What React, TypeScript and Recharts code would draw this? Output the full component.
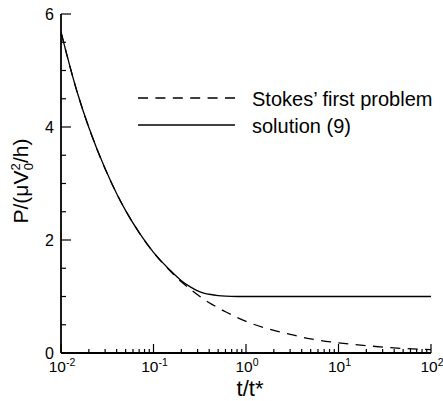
import React from "react";
import { Legend, Line, LineChart, XAxis, YAxis } from "recharts";

// t/t* sample points (log axis)
const tValues = [
  0.01, 0.015, 0.02, 0.03, 0.04, 0.05, 0.07, 0.1, 0.15, 0.2, 0.25, 0.3, 0.35,
  0.4, 0.5, 0.6, 0.8, 1, 2, 3, 5, 10, 20, 50, 100,
];

// dashed curve
const stokesValues = [
  5.68, 4.61, 3.99, 3.26, 2.82, 2.52, 2.13, 1.78, 1.46, 1.26, 1.13, 1.03, 0.95,
  0.89, 0.8, 0.73, 0.63, 0.56, 0.4, 0.33, 0.25, 0.18, 0.13, 0.08, 0.06,
];

// solid curve
const solutionValues = [
  5.68, 4.61, 3.99, 3.26, 2.82, 2.52, 2.13, 1.78, 1.47, 1.28, 1.17, 1.1, 1.06,
  1.04, 1.015, 1.005, 1.0, 1.0, 1.0, 1.0, 1.0, 1.0, 1.0, 1.0, 1.0,
];

const xDecades = [0.01, 0.1, 1, 10, 100];
const xExponents = ["-2", "-1", "0", "1", "2"];
const yMajor = [0, 2, 4, 6];
const yTicks = [0, 0.5, 1, 1.5, 2, 2.5, 3, 3.5, 4, 4.5, 5, 5.5, 6];

const seriesNames = ["Stokes\u2019 first problem", "solution (9)"];

const FONT = '"Liberation Sans", Arial, Helvetica, sans-serif';

const data = tValues.map((t, i) => ({
  t,
  stokes: stokesValues[i],
  solution: solutionValues[i],
}));

const xTicks: number[] = [];
xDecades.forEach((d, i) => {
  if (i === xDecades.length - 1) {
    xTicks.push(d);
    return;
  }
  for (let m = 1; m <= 9; m++) xTicks.push(m * d);
});

// built-in tick lines are the short (minor) ones; majors get an extra stub here
function XTick(props: any) {
  const { x, y, payload } = props;
  const v = payload.value;
  const idx = xDecades.findIndex((d) => Math.abs(d - v) < d * 1e-6);
  if (idx < 0) return <g />;
  return (
    <g>
      <path d={`M${x},${y - 4}L${x},${y - 9}`} stroke="#000" strokeWidth={1.2} fill="none" />
      <text x={x + 1} y={y + 19} textAnchor="middle" fontFamily={FONT} fontSize={15.5} fill="#000">
        10
        <tspan dy={-6} fontSize={10.5}>
          {xExponents[idx]}
        </tspan>
      </text>
    </g>
  );
}

function YTick(props: any) {
  const { x, y, payload } = props;
  if (!yMajor.includes(payload.value)) return <g />;
  return (
    <g>
      <path d={`M${x + 5},${y}L${x + 10},${y}`} stroke="#000" strokeWidth={1.2} fill="none" />
      <text x={x - 7} y={y + 5.6} textAnchor="end" fontFamily={FONT} fontSize={16} fill="#000">
        {payload.value}
      </text>
    </g>
  );
}

function YTitle() {
  const cx = 28;
  const cy = 181;
  return (
    <text
      x={cx}
      y={cy}
      transform={`rotate(-90, ${cx}, ${cy})`}
      textAnchor="middle"
      fontFamily={FONT}
      fontSize={21}
      fill="#000"
    >
      P/(μV
      <tspan dy={-8} fontSize={13}>
        2
      </tspan>
      <tspan dx={-7} dy={13} fontSize={13}>
        0
      </tspan>
      <tspan dy={-5}>/h)</tspan>
    </text>
  );
}

function XTitle() {
  return (
    <text x={250} y={396} textAnchor="middle" fontFamily={FONT} fontSize={22} fill="#000">
      t/t*
    </text>
  );
}

function LegendBox() {
  return (
    <svg width={313} height={60} style={{ display: "block", overflow: "visible" }}>
      <line x1={8} x2={105} y1={18} y2={18} stroke="#000" strokeWidth={1.3} strokeDasharray="10 7.4" />
      <text x={122} y={25.5} fontFamily={FONT} fontSize={20} fill="#000">
        {seriesNames[0]}
      </text>
      <line x1={8} x2={105} y1={45} y2={45} stroke="#000" strokeWidth={1.3} />
      <text x={122} y={52.5} fontFamily={FONT} fontSize={20} fill="#000">
        {seriesNames[1]}
      </text>
    </svg>
  );
}

export default function App() {
  return (
    <div style={{ position: "fixed", left: 0, top: 0, width: 443, height: 401, background: "#fff" }}>
      <LineChart
        width={443}
        height={401}
        data={data}
        margin={{ top: 14, right: 12, bottom: 0, left: 0 }}
      >
        <XAxis
          dataKey="t"
          type="number"
          scale="log"
          domain={[0.01, 100]}
          ticks={xTicks}
          interval={0}
          allowDataOverflow
          height={48}
          tickSize={-4}
          tickMargin={4}
          tickLine={{ stroke: "#000", strokeWidth: 1.2 }}
          axisLine={{ stroke: "#000", strokeWidth: 1.8 }}
          tick={(p: any) => <XTick {...p} />}
          label={<XTitle />}
        />
        <YAxis
          type="number"
          domain={[0, 6]}
          ticks={yTicks}
          interval={0}
          width={61}
          tickSize={-5}
          tickMargin={5}
          tickLine={{ stroke: "#000", strokeWidth: 1.2 }}
          axisLine={{ stroke: "#000", strokeWidth: 1.8 }}
          tick={(p: any) => <YTick {...p} />}
          label={<YTitle />}
        />
        <Legend
          layout="horizontal"
          verticalAlign="middle"
          align="center"
          wrapperStyle={{ left: 130, top: 80, width: 313, height: 60 }}
          content={() => <LegendBox />}
        />
        <Line
          type="monotone"
          dataKey="stokes"
          name={seriesNames[0]}
          stroke="#000"
          strokeWidth={1.3}
          strokeDasharray="10 7.4"
          dot={false}
          isAnimationActive={false}
        />
        <Line
          type="monotone"
          dataKey="solution"
          name={seriesNames[1]}
          stroke="#000"
          strokeWidth={1.3}
          dot={false}
          isAnimationActive={false}
        />
      </LineChart>
    </div>
  );
}
